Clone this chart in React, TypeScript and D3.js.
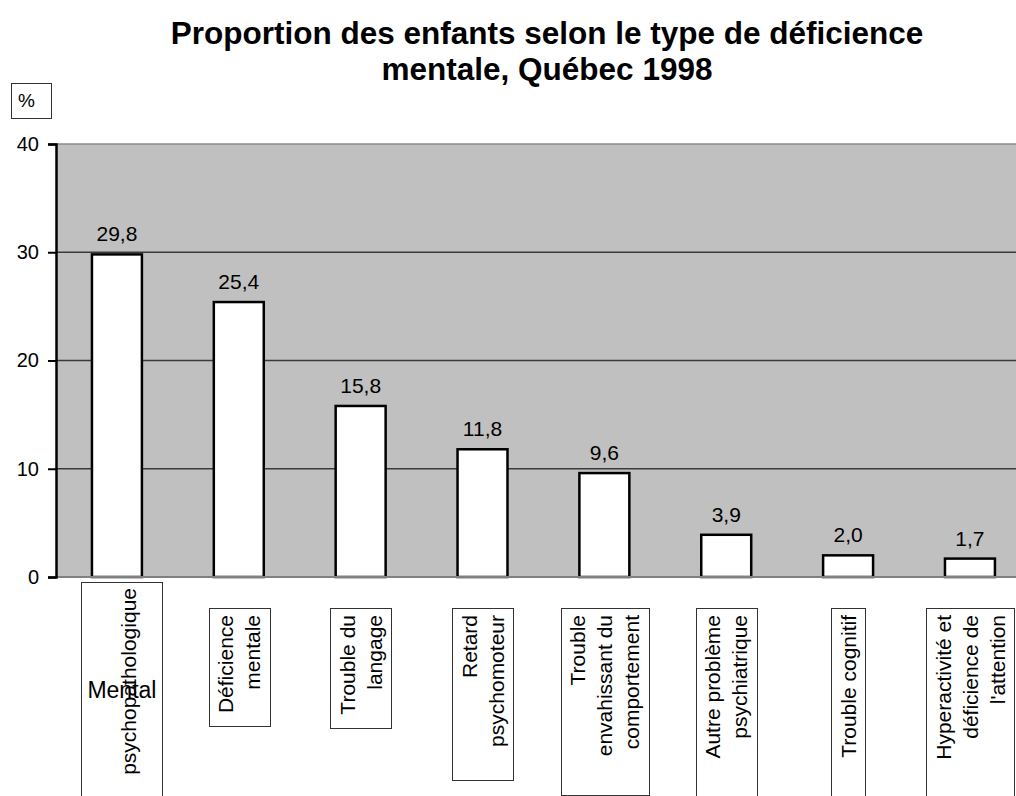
import * as d3 from "d3";
import React, { useEffect, useRef } from "react";

// data
const categoryLines = [
  ["psychopathologique"],
  ["Déficience", "mentale"],
  ["Trouble du", "langage"],
  ["Retard", "psychomoteur"],
  ["Trouble", "envahissant du", "comportement"],
  ["Autre problème", "psychiatrique"],
  ["Trouble cognitif"],
  ["Hyperactivité et", "déficience de", "l'attention"],
];
const values = [29.8, 25.4, 15.8, 11.8, 9.6, 3.9, 2.0, 1.7];
const yTicks = [0, 10, 20, 30, 40];
const overlayLabel = "Mental";
const titleLines = [
  "Proportion des enfants selon le type de déficience",
  "mentale, Québec 1998",
];
const unitLabel = "%";

const FONT = "'Liberation Sans', Arial, sans-serif";

export default function App() {
  const ref = useRef<SVGSVGElement>(null);

  useEffect(() => {
    const height = 796;
    const margin = { top: 144, left: 56, bottom: 219 };
    const step = 121.86;

    const svg = d3.select(ref.current);
    svg.selectAll("*").remove();

    const x = d3
      .scaleBand()
      .domain(categoryLines.map((d, i) => String(i)))
      .range([margin.left, margin.left + step * categoryLines.length])
      .paddingInner(0.59)
      .paddingOuter(0.295);

    const y = d3
      .scaleLinear()
      .domain([0, 40])
      .range([height - margin.bottom, margin.top]);

    // title
    svg
      .append("g")
      .selectAll("text")
      .data(titleLines)
      .join("text")
      .attr("x", 547)
      .attr("y", (d, i) => 44 + i * 36)
      .attr("text-anchor", "middle")
      .attr("font-family", FONT)
      .attr("font-weight", "bold")
      .attr("font-size", 31.5)
      .text((d) => d);

    // unit box
    const unit = svg.append("g");
    unit
      .append("rect")
      .attr("x", 11.5)
      .attr("y", 83.5)
      .attr("width", 40)
      .attr("height", 35)
      .attr("fill", "white")
      .attr("stroke", "#333")
      .attr("stroke-width", 1);
    unit
      .append("text")
      .attr("x", 18)
      .attr("y", 107)
      .attr("font-family", FONT)
      .attr("font-size", 19)
      .text(unitLabel);

    // plot area
    const x0 = x.range()[0];
    const x1 = x.range()[1];
    svg
      .append("rect")
      .attr("x", x0)
      .attr("y", y(40))
      .attr("width", x1 - x0)
      .attr("height", y(0) - y(40))
      .attr("fill", "#c0c0c0");

    // gridlines
    svg
      .append("g")
      .selectAll("line")
      .data(yTicks.filter((t) => t > 0 && t < 40))
      .join("line")
      .attr("x1", x0)
      .attr("x2", x1)
      .attr("y1", (d) => y(d))
      .attr("y2", (d) => y(d))
      .attr("stroke", "#3a3a3a")
      .attr("stroke-width", 1.3);

    svg
      .append("line")
      .attr("x1", x0)
      .attr("x2", x1)
      .attr("y1", y(40))
      .attr("y2", y(40))
      .attr("stroke", "#8a8a8a")
      .attr("stroke-width", 1.5);

    // bars
    svg
      .append("g")
      .selectAll("rect")
      .data(values)
      .join("rect")
      .attr("x", (d, i) => x(String(i)))
      .attr("y", (d) => y(d))
      .attr("width", x.bandwidth())
      .attr("height", (d) => y(0) - y(d))
      .attr("fill", "white")
      .attr("stroke", "black")
      .attr("stroke-width", 2.5);

    // x axis baseline
    svg
      .append("line")
      .attr("x1", x0)
      .attr("x2", x1)
      .attr("y1", y(0))
      .attr("y2", y(0))
      .attr("stroke", "#808080")
      .attr("stroke-width", 2);

    // value labels
    svg
      .append("g")
      .selectAll("text")
      .data(values)
      .join("text")
      .attr("x", (d, i) => x(String(i)) + x.bandwidth() / 2)
      .attr("y", (d) => y(d) - 13)
      .attr("text-anchor", "middle")
      .attr("font-family", FONT)
      .attr("font-size", 21)
      .text((d) => d3.format(".1f")(d).replace(".", ","));

    // y axis
    const yAxis = svg
      .append("g")
      .attr("transform", `translate(${margin.left},0)`)
      .call(d3.axisLeft(y).tickValues(yTicks).tickSize(8).tickPadding(9));
    yAxis.select(".domain").attr("stroke", "black").attr("stroke-width", 2.5);
    yAxis.selectAll(".tick line").attr("stroke", "black").attr("stroke-width", 2);
    yAxis
      .selectAll(".tick text")
      .attr("font-family", FONT)
      .attr("font-size", 20)
      .attr("fill", "black");

    // category labels: rotated text in boxes
    const lineGap = 27;
    const ascent = 15.5;
    categoryLines.forEach((lines, i) => {
      const cx = x(String(i)) + x.bandwidth() / 2 + (i === 0 ? 5 : 0);
      const top = i === 0 ? y(0) + 5 : y(0) + 31;
      const g = svg.append("g");
      const box = g.append("rect");

      const blockW = (lines.length - 1) * lineGap + ascent;
      const firstBase = i === 0 ? cx + 14 : cx - blockW / 2 + ascent;

      const t = g
        .append("text")
        .attr("font-family", FONT)
        .attr("font-size", 21)
        .attr("text-anchor", "end")
        .attr("transform", `translate(${firstBase},${top + (i === 0 ? 6 : 7)}) rotate(-90)`);
      t.selectAll("tspan")
        .data(lines)
        .join("tspan")
        .attr("x", 0)
        .attr("y", (d, j) => j * lineGap)
        .text((d) => d);

      let maxLen = 0;
      t.selectAll("tspan").each(function () {
        maxLen = Math.max(maxLen, (this as SVGTSpanElement).getComputedTextLength());
      });

      let boxW = blockW + 18;
      if (i === 0) {
        const m = g
          .append("text")
          .attr("x", cx)
          .attr("y", 698)
          .attr("text-anchor", "middle")
          .attr("font-family", FONT)
          .attr("font-size", 23)
          .text(overlayLabel);
        boxW = Math.max(boxW, (m.node() as SVGTextElement).getComputedTextLength() + 12);
      }
      const boxH = 1.6 * maxLen - 39;

      box
        .attr("x", Math.round(cx - boxW / 2) + 0.5)
        .attr("y", Math.round(top) + 0.5)
        .attr("width", Math.round(boxW))
        .attr("height", Math.round(boxH))
        .attr("fill", "white")
        .attr("stroke", "#333")
        .attr("stroke-width", 1);
    });
  }, []);

  return (
    <svg
      ref={ref}
      width={1016}
      height={796}
      style={{ position: "absolute", left: 0, top: 0, background: "white" }}
    ></svg>
  );
}
